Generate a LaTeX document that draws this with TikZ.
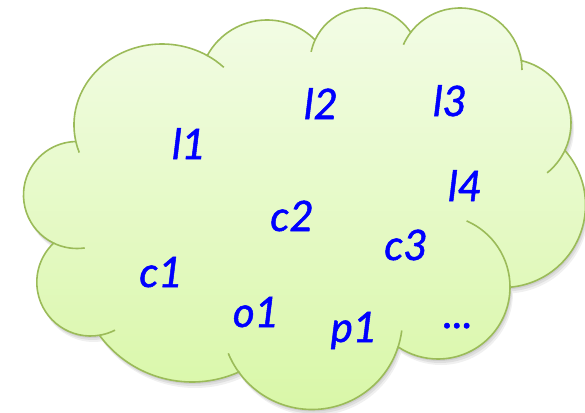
\documentclass[tikz,border=0pt]{standalone}
\usepackage{fontspec}
\setmainfont{Lato}
\newfontface\lblfont{Lato Italic}[FakeBold=1.2]
\definecolor{cloudgreen}{HTML}{9BBB59}
\definecolor{cloudtop}{HTML}{F3FCE7}
\definecolor{cloudbottom}{HTML}{D8F7A6}
\definecolor{labelblue}{HTML}{0000FF}
\tikzset{
  cloudline/.style={draw=cloudgreen, line width=1.6pt},
  cloudfill/.style={top color=cloudtop, bottom color=cloudbottom},
  lbl/.style={text=labelblue, font=\lblfont\fontsize{42}{50}\selectfont, anchor=base, inner sep=0pt},
}
\newcommand\cloudpath{
  ([shift={(162,125)}]168:88 and 81) arc[start angle=168,end angle=300.6,x radius=88,y radius=81]
  -- ([shift={(267,88)}]208.8:68) arc[start angle=208.8,end angle=315,radius=68]
  -- ([shift={(365,63)}]204.7:55) arc[start angle=204.7,end angle=326,radius=55]
  -- ([shift={(460,70)}]217.8:62) arc[start angle=217.8,end angle=350.8,radius=62]
  -- ([shift={(507,123)}]283.4:64) arc[start angle=283.4,end angle=384.6,radius=64]
  -- ([shift={(503,205)}]318.9:82.5) arc[start angle=318.9,end angle=445.1,radius=82.5]
  -- ([shift={(438,287)}]0:72) arc[start angle=0,end angle=123.5,radius=72]
  -- ([shift={(312,319)}]19.4:90.5) arc[start angle=19.4,end angle=145.4,radius=90.5]
  -- ([shift={(192,267)}]65.9:115) arc[start angle=65.9,end angle=143.5,radius=115]
  -- ([shift={(90.6,282.2)}]79.9:53.8) arc[start angle=79.9,end angle=225.5,radius=53.8]
  -- ([shift={(77,195)}]116.1:53.5) arc[start angle=116.1,end angle=267.8,radius=53.5]
  -- cycle
}
\begin{document}
\begin{tikzpicture}[x=1pt,y=1pt,yscale=-1]
\useasboundingbox (0,0) rectangle (585,412);
% soft shadow
\fill[black,opacity=.07,shift={(1,2)}] \cloudpath;
\fill[black,opacity=.07,shift={(2,4)}] \cloudpath;
\fill[black,opacity=.06,shift={(3,6)}] \cloudpath;
% cloud body
\path[cloudfill] \cloudpath;
\draw[cloudline] \cloudpath;
% inner arcs of the cloud
\draw[cloudline] ([shift={(162,125)}]300.6:88 and 81) arc[start angle=300.6,end angle=314.6,x radius=88,y radius=81];
\draw[cloudline] ([shift={(162,125)}]160.1:88 and 81) arc[start angle=160.1,end angle=168,x radius=88,y radius=81];
\draw[cloudline] ([shift={(365,63)}]191.7:55) arc[start angle=191.7,end angle=204.7,radius=55];
\draw[cloudline] ([shift={(460,70)}]204.1:62) arc[start angle=204.1,end angle=217.8,radius=62];
\draw[cloudline] ([shift={(460,70)}]350.8:62) arc[start angle=350.8,end angle=360,radius=62];
\draw[cloudline] ([shift={(507,123)}]384.6:64) arc[start angle=384.6,end angle=411.2,radius=64];
\draw[cloudline] ([shift={(438,287)}]293.4:72) arc[start angle=293.4,end angle=360,radius=72];
\draw[cloudline] ([shift={(312,319)}]7.3:90.5) arc[start angle=7.3,end angle=19.4,radius=90.5];
\draw[cloudline] ([shift={(312,319)}]145.4:90.5) arc[start angle=145.4,end angle=157.7,radius=90.5];
\draw[cloudline] ([shift={(90.6,282.2)}]63:53.8) arc[start angle=63,end angle=79.9,radius=53.8];
\draw[cloudline] ([shift={(77,195)}]81.7:53.5) arc[start angle=81.7,end angle=116.1,radius=53.5];
% labels
\node[lbl] (l1) at (189,159) {l1};
\node[lbl] (l2) at (321,119) {l2};
\node[lbl] (l3) at (450,116) {l3};
\node[lbl] (l4) at (465,201) {l4};
\node[lbl] (c2) at (292,231) {c2};
\node[lbl] (c3) at (406,260) {c3};
\node[lbl] (c1) at (161,287) {c1};
\node[lbl] (o1) at (256,327) {o1};
\node[lbl] (p1) at (354,342) {p1};
\node[lbl] (dots) at (458,328) {...};
\end{tikzpicture}
\end{document}
